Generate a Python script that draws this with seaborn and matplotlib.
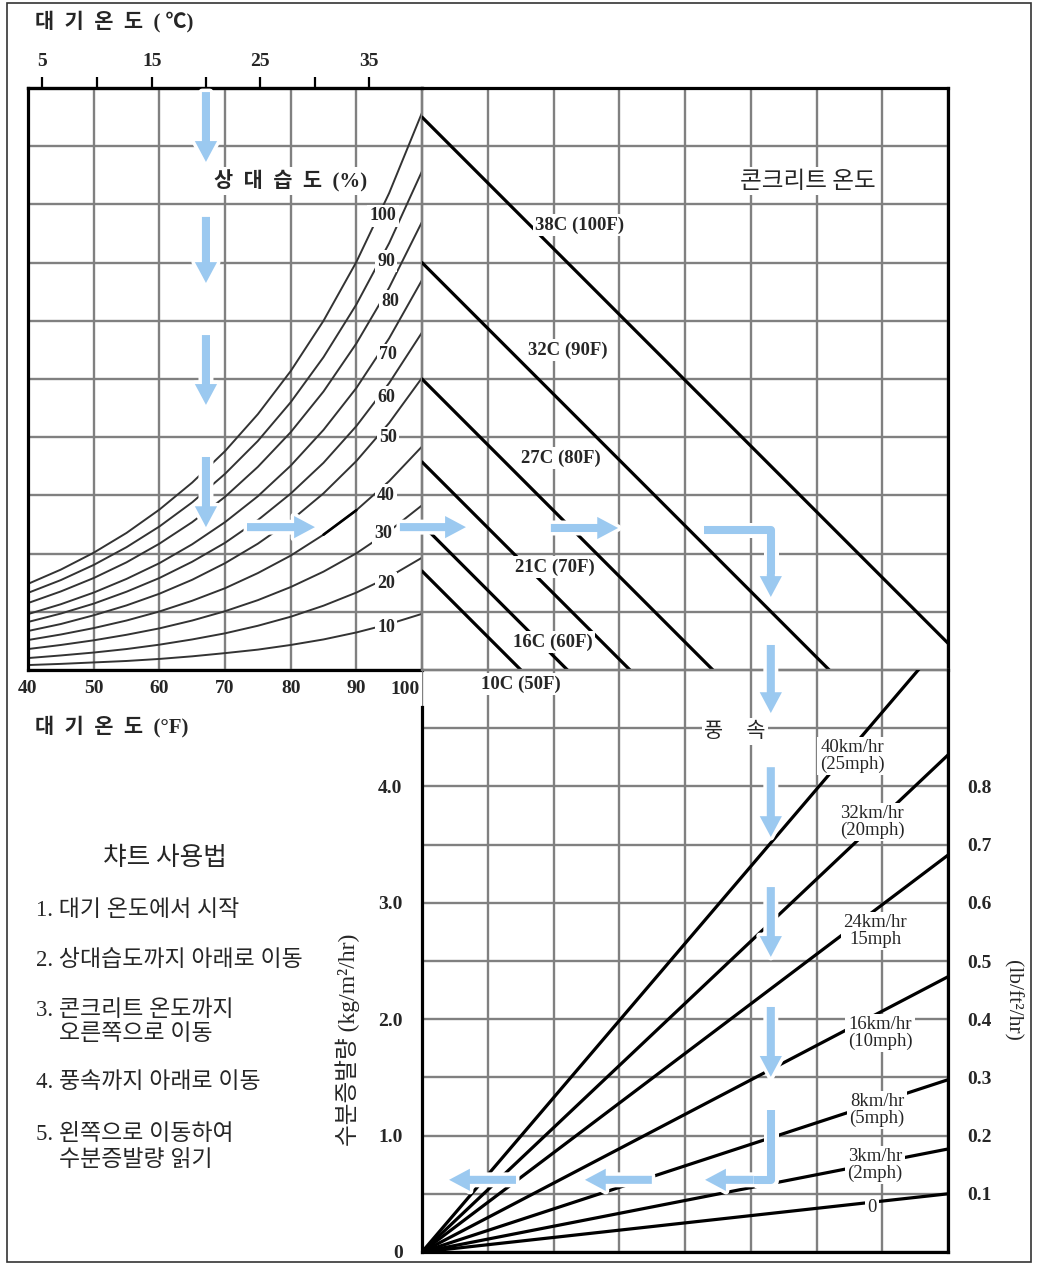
import numpy as np
import pandas as pd
import matplotlib
matplotlib.use("Agg")
import matplotlib.pyplot as plt
import seaborn as sns
from matplotlib.patches import FancyArrowPatch, Rectangle

# ---------------------------------------------------------------- data
# Air temperature (°F) at which the relative-humidity curves are tabulated
air_temp_f = [40, 45, 50, 55, 60, 65, 70, 75, 80, 85, 90, 95, 100]

# Vapour pressure of the air for each relative humidity (chart units, 0.2 per grid row)
rh_100 = [0.296, 0.345, 0.403, 0.471, 0.551, 0.644, 0.752, 0.879, 1.027, 1.200, 1.402, 1.639, 1.915]
rh_90 = [0.265, 0.309, 0.361, 0.422, 0.493, 0.576, 0.674, 0.787, 0.920, 1.075, 1.256, 1.467, 1.714]
rh_80 = [0.230, 0.270, 0.316, 0.370, 0.434, 0.508, 0.595, 0.698, 0.817, 0.957, 1.122, 1.314, 1.540]
rh_70 = [0.192, 0.226, 0.266, 0.313, 0.367, 0.432, 0.508, 0.597, 0.702, 0.825, 0.969, 1.140, 1.340]
rh_60 = [0.165, 0.194, 0.228, 0.269, 0.316, 0.372, 0.437, 0.515, 0.606, 0.712, 0.838, 0.986, 1.160]
rh_50 = [0.134, 0.158, 0.188, 0.222, 0.262, 0.310, 0.367, 0.434, 0.513, 0.607, 0.718, 0.849, 1.004]
rh_40 = [0.103, 0.122, 0.144, 0.170, 0.201, 0.238, 0.281, 0.333, 0.393, 0.465, 0.549, 0.649, 0.768]
rh_30 = [0.072, 0.086, 0.102, 0.121, 0.143, 0.170, 0.202, 0.240, 0.285, 0.338, 0.401, 0.477, 0.566]
rh_20 = [0.041, 0.050, 0.060, 0.072, 0.087, 0.105, 0.126, 0.152, 0.183, 0.221, 0.266, 0.320, 0.386]
rh_10 = [0.017, 0.021, 0.026, 0.031, 0.038, 0.047, 0.058, 0.070, 0.086, 0.105, 0.129, 0.158, 0.193]
rh_levels = ["100", "90", "80", "70", "60", "50", "40", "30", "20", "10"]

# Concrete temperature lines: saturation vapour pressure at the concrete surface
concrete_labels = ["10C (50F)", "16C (60F)", "21C (70F)", "27C (80F)", "32C (90F)", "38C (100F)"]
concrete_vp = [0.34, 0.50, 0.715, 1.00, 1.40, 1.90]

# Wind speed lines: evaporation rate (lb/ft²/hr) reached at the right edge of the chart
wind_labels = ["0", "3km/hr\n(2mph)", "8km/hr\n(5mph)", "16km/hr\n(10mph)",
               "24km/hr\n15mph", "32km/hr\n(20mph)", "40km/hr\n(25mph)"]
evap_at_edge = [0.100, 0.177, 0.296, 0.473, 0.682, 0.854, 1.060]

# Axis ranges and ticks
VP_MAX = 2.0          # upper quadrants, vapour pressure
DIFF_MAX = 1.808      # vapour pressure difference (8 columns)
EVAP_MAX = 1.0        # lb/ft²/hr
fahrenheit_ticks = [40, 50, 60, 70, 80, 90, 100]
celsius_tick_pos_f = [42.1, 50.5, 58.9, 67.1, 75.3, 83.7, 91.9]
celsius_tick_labels = ["5", "", "15", "", "25", "", "35"]
lb_ticks = [0.0, 0.1, 0.2, 0.3, 0.4, 0.5, 0.6, 0.7, 0.8, 0.9, 1.0]
lb_tick_labels = ["", "0.1", "0.2", "0.3", "0.4", "0.5", "0.6", "0.7", "0.8", "", ""]
kg_ticks = [0, 1, 2, 3, 4]
kg_tick_labels = ["0", "1.0", "2.0", "3.0", "4.0"]

steps = ["1. 대기 온도에서 시작", "2. 상대습도까지 아래로 이동",
         "3. 콘크리트 온도까지", "    오른쪽으로 이동", "4. 풍속까지 아래로 이동",
         "5. 왼쪽으로 이동하여", "    수분증발량 읽기"]

# ---------------------------------------------------------------- style
sns.set_theme(style="white")
FAM = ["Liberation Serif", "Noto Sans CJK KR"]
KFAM = ["Noto Sans CJK KR", "Liberation Serif"]
plt.rcParams["font.family"] = FAM
GRID = "#808080"
INK = "black"
BLUE = "#9BC9F0"

W, H = 1037, 1265
fig = plt.figure(figsize=(W / 100, H / 100), dpi=100)
fig.patch.set_facecolor("white")


def frac_box(x0, y0, x1, y1):
    return [x0 / W, 1 - y1 / H, (x1 - x0) / W, (y1 - y0) / H]


ax_rh = fig.add_axes(frac_box(28, 88, 422, 670))
ax_ct = fig.add_axes(frac_box(422, 88, 948, 670))
ax_ev = fig.add_axes(frac_box(422, 670, 948, 1252))

# ---------------------------------------------------------------- marks
rh_df = pd.DataFrame({
    "temp_f": air_temp_f * len(rh_levels),
    "vp": rh_100 + rh_90 + rh_80 + rh_70 + rh_60 + rh_50 + rh_40 + rh_30 + rh_20 + rh_10,
    "rh": np.repeat(rh_levels, len(air_temp_f)),
})
sns.lineplot(data=rh_df, x="temp_f", y="vp", units="rh", estimator=None,
             color="#333333", lw=1.4, ax=ax_rh, legend=False)
# darker stroke on part of the 40 % curve
hl = rh_df[(rh_df.rh == "40") & (rh_df.temp_f.between(85, 90))]
ax_rh.plot(hl.temp_f, hl.vp, color=INK, lw=1.9, zorder=3)

ct_df = pd.DataFrame({
    "diff": [c for v in concrete_vp for c in (0.0, v)],
    "vp": [c for v in concrete_vp for c in (v, 0.0)],
    "tc": np.repeat(concrete_labels, 2),
})
sns.lineplot(data=ct_df, x="diff", y="vp", units="tc", estimator=None, sort=False,
             color=INK, lw=2.3, ax=ax_ct, legend=False)

wind_df = pd.DataFrame({
    "diff": [c for _ in evap_at_edge for c in (0.0, DIFF_MAX)],
    "evap": [c for e in evap_at_edge for c in (0.0, e)],
    "wind": np.repeat(wind_labels, 2),
})
sns.lineplot(data=wind_df, x="diff", y="evap", units="wind", estimator=None,
             color=INK, lw=2.3, ax=ax_ev, legend=False)

# ---------------------------------------------------------------- axes
for ax in (ax_rh, ax_ct, ax_ev):
    ax.set_facecolor("none")
    ax.set_axisbelow(True)
    ax.set_xlabel("")
    ax.set_ylabel("")
    ax.grid(True, color=GRID, lw=1.7)
    ax.tick_params(length=0)
    for s in ax.spines.values():
        s.set_color(INK)
        s.set_linewidth(2.3)

cols = np.linspace(0, DIFF_MAX, 9)
ax_rh.set_xlim(40, 100)
ax_rh.set_ylim(0, VP_MAX)
ax_rh.set_xticks(fahrenheit_ticks, labels=[str(t) for t in fahrenheit_ticks[:-1]] + [""])
ax_rh.set_yticks(np.arange(0, VP_MAX + 0.01, 0.2), labels=[])
ax_rh.tick_params(axis="x", labelsize=14, pad=7)
for t in ax_rh.get_xticklabels():
    t.set_fontweight("bold")
ax_rh.spines["right"].set_color(GRID)
ax_rh.spines["right"].set_linewidth(1.7)

ax_ct.set_xlim(0, DIFF_MAX)
ax_ct.set_ylim(0, VP_MAX)
ax_ct.set_xticks(cols, labels=[])
ax_ct.set_yticks(np.arange(0, VP_MAX + 0.01, 0.2), labels=[])
ax_ct.spines["left"].set_visible(False)
ax_ct.spines["bottom"].set_color(GRID)
ax_ct.spines["bottom"].set_linewidth(1.7)

ax_ev.set_xlim(0, DIFF_MAX)
ax_ev.set_ylim(0, EVAP_MAX)
ax_ev.set_xticks(cols, labels=[])
ax_ev.yaxis.tick_right()
ax_ev.set_yticks(lb_ticks, labels=lb_tick_labels)
ax_ev.tick_params(axis="y", labelsize=14, pad=14)
for t in ax_ev.get_yticklabels():
    t.set_fontweight("bold")
ax_ev.spines["top"].set_visible(False)
ax_ev.spines["left"].set_bounds(0, 0.936)

kg_axis = ax_ev.secondary_yaxis("left", functions=(lambda v: v * 5.0, lambda v: v / 5.0))
kg_axis.set_yticks(kg_ticks, labels=kg_tick_labels)
kg_axis.tick_params(length=0, labelsize=14, pad=14)
kg_axis.spines["left"].set_visible(False)
for t in kg_axis.get_yticklabels():
    t.set_fontweight("bold")

c_axis = ax_rh.secondary_xaxis("top")
c_axis.set_xticks(celsius_tick_pos_f, labels=celsius_tick_labels)
c_axis.tick_params(direction="out", length=8, width=1.6, color=INK, labelsize=14, pad=5)
c_axis.spines["top"].set_linewidth(2.3)
for t in c_axis.get_xticklabels():
    t.set_fontweight("bold")

# ---------------------------------------------------------------- guide arrows
HEAD = "simple,head_length=15,head_width=16,tail_width=5.8"


def blue_arrow(ax, p0, p1):
    for fc, ec, lw, z in (("white", "white", 5, 7), (BLUE, "none", 0, 8)):
        a = FancyArrowPatch(p0, p1, arrowstyle=HEAD, mutation_scale=1,
                            shrinkA=0, shrinkB=0, fc=fc, ec=ec, lw=lw, zorder=z)
        ax.add_patch(a)
        a.set_clip_on(False)


def blue_bend(ax, pts, tip):
    xs, ys = zip(*pts)
    ax.plot(xs, ys, color="white", lw=10.8, solid_capstyle="butt",
            solid_joinstyle="round", zorder=7, clip_on=False)
    ax.plot(xs, ys, color=BLUE, lw=5.8, solid_capstyle="butt",
            solid_joinstyle="round", zorder=8, clip_on=False)
    blue_arrow(ax, pts[-1], tip)


for y0, y1 in ((1.986, 1.746), (1.557, 1.330), (1.151, 0.911), (0.732, 0.491)):
    blue_arrow(ax_rh, (67.1, y0), (67.1, y1))
blue_arrow(ax_rh, (73.35, 0.491), (83.7, 0.491))
blue_arrow(ax_ct, (-0.076, 0.491), (0.151, 0.491))
blue_arrow(ax_ct, (0.443, 0.488), (0.674, 0.488))
blue_bend(ax_ct, [(0.969, 0.481), (1.199, 0.481), (1.199, 0.330)], (1.199, 0.251))
for y0, y1 in ((1.043, 0.926), (0.833, 0.713), (0.627, 0.507), (0.421, 0.301)):
    blue_arrow(ax_ev, (1.199, y0), (1.199, y1))
blue_bend(ax_ev, [(1.199, 0.244), (1.199, 0.124), (1.140, 0.124)], (0.973, 0.124))
blue_arrow(ax_ev, (0.790, 0.124), (0.560, 0.124))
blue_arrow(ax_ev, (0.323, 0.124), (0.093, 0.124))

# ---------------------------------------------------------------- text
BG = dict(boxstyle="square,pad=0.12", fc="white", ec="none")


def label(x, y, s, size, weight="normal", ha="center", va="center",
          bg=True, rotation=0, family=FAM, **kw):
    fig.text(x / W, 1 - y / H, s, fontsize=size, fontweight=weight, ha=ha, va=va,
             rotation=rotation, family=family, bbox=BG if bg else None, zorder=10, **kw)


label(35, 22, "대  기  온  도  ( ℃)", 15, "bold", ha="left", bg=False)
label(35, 727, "대  기  온  도  (°F)", 15, "bold", ha="left", bg=False)
label(405, 690, "100", 14, "bold")
label(291, 181, "상  대  습  도  (%)", 15, "bold")
label(808, 181, "콘크리트 온도", 17, family=KFAM)
label(735, 731, "풍     속", 15, family=KFAM)

rh_pos = [(383, 216), (386, 261), (390, 301), (388, 355), (386, 397),
          (388, 438), (386, 495), (383, 533), (386, 583), (386, 628)]
for s, (x, y) in zip(rh_levels, rh_pos):
    label(x, y, s, 13, "bold")

ct_pos = [(521, 684), (553, 642), (555, 567), (561, 458), (568, 350), (580, 225)]
for s, (x, y) in zip(concrete_labels, ct_pos):
    label(x, y, s, 13.5, "bold")

wind_pos = [(872, 1208), (875, 1165), (877, 1110), (880, 1033), (875, 931), (872, 822), (852, 756)]
for s, (x, y) in zip(wind_labels, wind_pos):
    label(x, y, s, 13.5, linespacing=1.0)

label(165, 858, "챠트 사용법", 18.5, family=KFAM, bg=False)
step_y = [910, 960, 1010, 1035, 1082, 1135, 1160]
for s, y in zip(steps, step_y):
    label(36, y, s, 16.5, ha="left", bg=False)

label(348, 1040, "수분증발량 (kg/m²/hr)", 17, rotation=90, bg=False)
label(1012, 1000, "(lb/ft²/hr)", 15.5, rotation=270, bg=False)

# outer frame
fig.patches.append(Rectangle((7 / W, 1 - 1262 / H), (1031 - 7) / W, (1262 - 3) / H,
                             transform=fig.transFigure, fill=False, ec="#333333", lw=1.2))

fig.savefig("out.png", dpi=100, facecolor="white")
